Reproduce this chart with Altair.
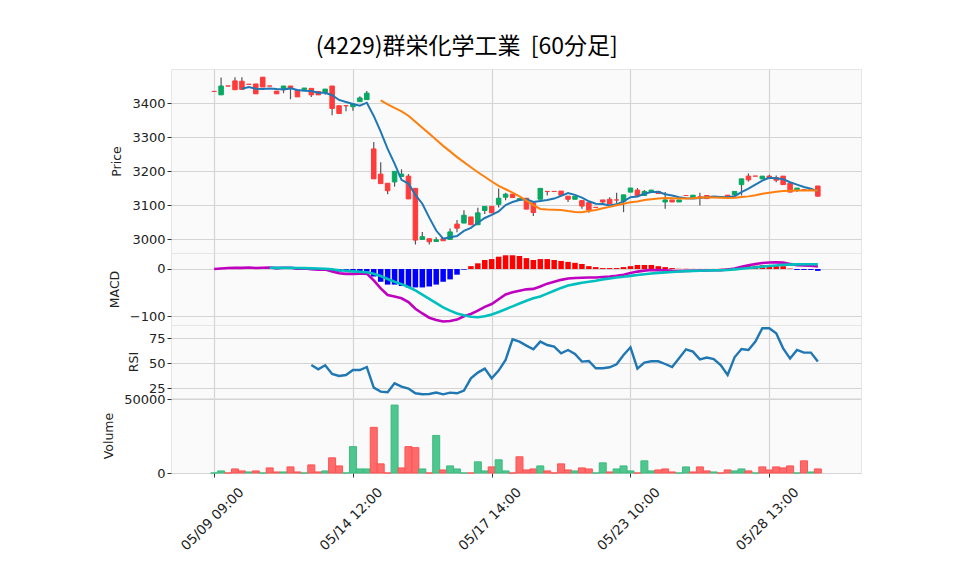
import altair as alt
import pandas as pd

# ---------------- data ----------------
N = 88
idx = list(range(N))

opens = [3435, 3425, 3451, 3466, 3465, 3456, 3457, 3477, 3451, 3436,
         3444, 3451, 3439, 3440, 3444, 3435, 3432, 3451, 3393, 3393,
         3390, 3405, 3411, 3266, 3192, 3165, 3169, 3185, 3186, 3150,
         3000, 3002, 2994, 3002, 3000, 3045, 3048, 3066, 3043, 3085,
         3097, 3103, 3124, 3133, 3116, 3121, 3107, 3118, 3141, 3141,
         3142, 3127, 3118, 3114, 3108, 3094, 3116, 3118, 3116, 3112,
         3139, 3145, 3129, 3139, 3141, 3110, 3116, 3110, 3129, 3124,
         3125, 3129, 3125, 3125, 3130, 3131, 3161, 3186, 3186, 3178,
         3186, 3182, 3186, 3165, 3145, 3146, 3146, 3157]
highs = [3435, 3476, 3451, 3477, 3477, 3456, 3457, 3477, 3451, 3436,
         3451, 3451, 3439, 3445, 3444, 3435, 3442, 3451, 3393, 3393,
         3398, 3421, 3436, 3286, 3227, 3165, 3200, 3206, 3192, 3150,
         3022, 3002, 3006, 3002, 3032, 3057, 3086, 3066, 3093, 3097,
         3097, 3150, 3137, 3133, 3120, 3121, 3107, 3150, 3141, 3141,
         3142, 3127, 3127, 3116, 3108, 3094, 3116, 3124, 3137, 3131,
         3151, 3151, 3145, 3145, 3141, 3139, 3116, 3116, 3129, 3130,
         3137, 3129, 3125, 3125, 3130, 3141, 3178, 3194, 3186, 3186,
         3190, 3188, 3186, 3165, 3151, 3146, 3146, 3157]
lows = [3435, 3425, 3451, 3440, 3440, 3456, 3428, 3448, 3451, 3428,
        3430, 3412, 3419, 3440, 3419, 3425, 3425, 3365, 3370, 3377,
        3378, 3405, 3411, 3178, 3164, 3133, 3155, 3185, 3119, 2985,
        3000, 2985, 2994, 2996, 3000, 3021, 3048, 3043, 3043, 3075,
        3078, 3094, 3115, 3123, 3116, 3089, 3069, 3118, 3129, 3141,
        3130, 3110, 3118, 3090, 3078, 3094, 3106, 3104, 3106, 3080,
        3139, 3129, 3129, 3139, 3135, 3090, 3110, 3110, 3129, 3124,
        3100, 3120, 3125, 3125, 3126, 3125, 3129, 3170, 3186, 3178,
        3180, 3168, 3161, 3139, 3139, 3146, 3146, 3127]
closes = [3435, 3451, 3451, 3440, 3441, 3456, 3428, 3448, 3451, 3428,
          3451, 3444, 3419, 3445, 3425, 3425, 3442, 3385, 3370, 3393,
          3398, 3416, 3430, 3178, 3164, 3143, 3200, 3192, 3119, 2998,
          3008, 2993, 2999, 2996, 3022, 3033, 3071, 3043, 3078, 3097,
          3078, 3121, 3133, 3123, 3120, 3089, 3079, 3150, 3141, 3141,
          3130, 3118, 3127, 3098, 3086, 3094, 3110, 3104, 3116, 3131,
          3151, 3129, 3141, 3145, 3135, 3116, 3110, 3116, 3129, 3130,
          3125, 3120, 3125, 3125, 3126, 3141, 3178, 3175, 3186, 3186,
          3180, 3174, 3161, 3139, 3151, 3146, 3146, 3127]

ma5_vals = [3443, 3448, 3443, 3442, 3444, 3442, 3441, 3444, 3439, 3437,
            3436, 3431, 3431, 3424, 3410, 3404, 3398, 3393, 3402, 3363,
            3317, 3266, 3223, 3175, 3164, 3131, 3105, 3064, 3026, 3002,
            3006, 3010, 3025, 3034, 3049, 3063, 3072, 3082, 3101, 3110,
            3116, 3118, 3110, 3113, 3116, 3120, 3128, 3136, 3131, 3123,
            3112, 3105, 3104, 3100, 3103, 3112, 3124, 3126, 3134, 3139,
            3140, 3133, 3129, 3124, 3121, 3120, 3122, 3124, 3126, 3125,
            3124, 3127, 3139, 3149, 3161, 3173, 3181, 3180, 3177, 3168,
            3161, 3154, 3149, 3142]
ma25_vals = [3408.5, 3396.8, 3386.8, 3376.4, 3363.6, 3345.9, 3328.2, 3311.0,
             3293.1, 3275.0, 3258.8, 3242.0, 3227.1, 3212.1, 3197.4, 3184.2,
             3170.2, 3157.4, 3147.5, 3137.6, 3126.6, 3114.2, 3100.8, 3089.6,
             3088.1, 3087.2, 3086.6, 3083.4, 3080.8, 3079.9, 3083.4, 3086.6,
             3091.4, 3095.6, 3100.2, 3104.6, 3109.3, 3111.6, 3115.6, 3118.3,
             3120.0, 3121.6, 3121.1, 3120.3, 3120.5, 3120.9, 3122.3, 3123.9,
             3122.9, 3122.3, 3121.7, 3122.2, 3124.6, 3126.5, 3130.0, 3134.0,
             3137.4, 3139.8, 3142.0, 3143.0, 3143.8, 3143.6, 3144.2, 3143.7]

macd_vals = [0, 1.2, 2.2, 2.4, 2.4, 3.2, 2.2, 2.5, 3.0, 1.8,
             2.5, 2.5, 0.8, 1.0, -0.3, -1.3, -1.0, -5.5, -9.0, -10.3,
             -10.3, -10.0, -9.5, -24, -41, -55, -58, -62, -70, -84,
             -94, -103, -108, -111, -110, -107, -100, -95, -88, -80,
             -74, -64, -54, -49, -46, -43, -42, -37, -31, -27,
             -23, -20, -19, -18.4, -18, -18, -17, -16, -14.5, -12,
             -8.5, -5.5, -3.5, -2.2, -2.4, -3.0, -4.0, -4.5, -4.0, -3.7,
             -3.4, -3.1, -2.8, -2.3, -1.0, 1.1, 4.5, 8.0, 10.5, 12.5,
             13.8, 14.0, 13.5, 10.5, 7.8, 7.5, 7.0, 5.5]
signal_vals = [2.5, 2.4, 2.4, 2.4, 2.1, 1.9, 1.4, 0.9, 0.5, -0.7,
               -2.5, -3.8, -5.0, -6.0, -7.0, -10, -15, -21, -27, -32,
               -38, -45, -54, -63, -72, -81, -88, -94, -98, -101,
               -102, -100, -96, -91, -85, -79, -73, -67, -62, -58,
               -52, -46, -40, -35, -32, -29, -27, -25, -22, -20,
               -18, -16.5, -14.5, -12.7, -11.2, -9.6, -8.2, -7.2, -6.3, -5.3,
               -4.5, -4.0, -3.6, -3.3, -3.0, -2.8, -2.0, -0.9, 0.5, 2.0,
               3.5, 5.0, 6.3, 7.5, 8.6, 9.3, 9.8, 10, 10, 10]
hist_vals = [0.3, -0.5, 0.2, 0.2, -1.1, -0.8, -1.5, -2.0, -1.3, -4.5,
             -5.5, -3.5, -4.0, -4.2, -5.6, -16, -27, -33, -33, -36,
             -39, -39, -39, -37, -33, -27, -22, -12, -1.5, 6,
             12, 19, 21, 26, 29, 29, 27.5, 23, 19, 21,
             21, 19, 17, 15, 13, 10.6, 6, 4, 2, 2,
             2, 4, 6, 8.5, 8.5, 8.5, 6, 4, 2, 0.5,
             0.5, 0.3, 0.2, 0.2, 0.2, 0.5, 1, 2, 4, 6,
             7, 8, 8, 7, 6, 1, -2, -2, -2, -4]

rsi_vals = [48.3, 44, 48, 39.3, 37.3, 38.3, 43.3, 43.3, 46.3, 25.7,
            21.7, 21, 30, 26.7, 24.7, 20, 19, 19.3, 20.7, 19,
            20.7, 20, 22.7, 35, 40.7, 44.7, 35, 42.7, 53.3, 74,
            71.7, 67.7, 64, 71.7, 68.3, 66.7, 60, 63.3, 59.3, 51.7,
            52.3, 45, 45, 46, 49, 58.3, 66, 44.7, 50.7, 52,
            52, 49.3, 46.3, 55, 64, 61.7, 54, 55.7, 54.3, 48.3,
            38.3, 56, 64.3, 63.3, 71.7, 85, 85, 80, 65, 54.7,
            63.3, 60.7, 60.7, 51.7]

volume = [0, 1400, 0, 2750, 1400, 700, 1400, 0, 3440, 700,
          700, 4130, 700, 0, 5500, 700, 1400, 10300, 4800, 0,
          17900, 2750, 2750, 31000, 6200, 0, 46100, 3440, 17900, 17200,
          2750, 0, 25500, 2060, 4800, 2750, 0, 0, 7570, 1400,
          4130, 8950, 1400, 0, 11000, 2060, 2750, 4800, 1400, 0,
          6200, 2060, 1400, 3440, 2750, 0, 6900, 700, 2750, 4800,
          1400, 0, 8260, 1400, 2060, 2750, 700, 0, 4130, 700,
          4130, 1400, 700, 0, 2060, 1400, 2750, 1400, 0, 4130,
          2060, 4130, 3440, 4800, 0, 8260, 700, 2750]
vol_up = [1, 1, 0, 0, 0, 1, 0, 1, 0, 0,
          1, 0, 0, 1, 0, 0, 1, 0, 0, 1,
          1, 1, 1, 0, 0, 0, 1, 0, 0, 0,
          1, 0, 1, 0, 1, 1, 1, 0, 1, 1,
          0, 1, 1, 0, 0, 0, 0, 1, 0, 0,
          0, 0, 1, 0, 0, 1, 1, 0, 1, 1,
          1, 0, 1, 1, 0, 0, 0, 1, 1, 0,
          0, 0, 1, 0, 0, 1, 1, 0, 1, 0,
          0, 0, 0, 0, 1, 0, 1, 0]

tick_pos = [0, 20, 40, 60, 80]
tick_labels = ["05/09 09:00", "05/14 12:00", "05/17 14:00", "05/23 10:00", "05/28 13:00"]
title_text = "(4229)群栄化学工業\u00a0 [60分足]"

# ---------------- table ----------------
def pad(vals):
    return [None] * (N - len(vals)) + list(vals)

df = pd.DataFrame({
    "i": idx, "open": opens, "high": highs, "low": lows, "close": closes,
    "ma5": pad(ma5_vals), "ma25": pad(ma25_vals),
    "macd": macd_vals, "signal": pad(signal_vals), "hist": pad(hist_vals),
    "rsi": pad(rsi_vals), "volume": volume, "vup": vol_up,
})

TFONT = "Noto Sans CJK JP"
FONT = "DejaVu Sans"
UP = "#07a862"
DOWN = "#ff3b3b"
xscale = alt.Scale(domain=[-5.5, 92.5], nice=False, zero=False)
W = 690

def x_hidden():
    return alt.X("i:Q", scale=xscale,
                 axis=alt.Axis(values=tick_pos, labels=False, ticks=False,
                               domain=False, title=None, grid=True,
                               minExtent=0, maxExtent=0, offset=0))

label_expr = " : ".join(f"datum.value == {p} ? '{l}'" for p, l in zip(tick_pos, tick_labels)) + " : ''"

x_bottom = alt.X("i:Q", scale=xscale,
                 axis=alt.Axis(values=tick_pos, labelExpr=label_expr, labelAngle=315,
                               labelAlign="center", labelBaseline="middle",
                               labelPadding=42, labelOffset=-2, ticks=True, tickSize=4,
                               domain=False, title=None, grid=True, labelFontSize=13.5))

base = alt.Chart(df)

# ---- price panel ----
py = alt.Scale(domain=[2960, 3501], nice=False, zero=False)
paxis = alt.Axis(values=[3000, 3100, 3200, 3300, 3400], title="Price", format="d")
wick = base.mark_rule(color="#555555", strokeWidth=1.2).encode(
    x=x_hidden(), y=alt.Y("low:Q", scale=py, axis=paxis), y2="high:Q")
up_cond = "datum.close > datum.open"
body = base.mark_bar(size=4.5, strokeWidth=1).encode(
    x=x_hidden(), y=alt.Y("open:Q", scale=py), y2="close:Q",
    color=alt.condition(up_cond, alt.value(UP), alt.value(DOWN)),
    stroke=alt.condition(up_cond, alt.value(UP), alt.value(DOWN)))
ma5 = base.mark_line(color="#1f77b4", strokeWidth=2).encode(
    x=x_hidden(), y=alt.Y("ma5:Q", scale=py))
ma25 = base.mark_line(color="#ff7f0e", strokeWidth=2).encode(
    x=x_hidden(), y=alt.Y("ma25:Q", scale=py))
price = alt.layer(wick, body, ma5, ma25).properties(width=W, height=184)

# ---- MACD panel ----
my = alt.Scale(domain=[-118.4, 33.8], nice=False, zero=False)
maxis = alt.Axis(values=[-100, 0], title="MACD", format="d")
hbar = base.mark_bar(size=5.5).encode(
    x=x_hidden(), y=alt.Y("hist:Q", scale=my, axis=maxis), y2=alt.datum(0),
    color=alt.condition("datum.hist > 0", alt.value("#ff0000"), alt.value("#0000ff")))
mline = base.mark_line(color="#bf00bf", strokeWidth=2.6).encode(
    x=x_hidden(), y=alt.Y("macd:Q", scale=my))
sline = base.mark_line(color="#00bfbf", strokeWidth=2.6).encode(
    x=x_hidden(), y=alt.Y("signal:Q", scale=my))
macd = alt.layer(hbar, mline, sline).properties(width=W, height=72)

# ---- RSI panel ----
ry = alt.Scale(domain=[15.3, 88.3], nice=False, zero=False)
rsi = base.mark_line(color="#1f77b4", strokeWidth=2.4).encode(
    x=x_hidden(), y=alt.Y("rsi:Q", scale=ry,
                          axis=alt.Axis(values=[25, 50, 75], title="RSI", format="d"))
).properties(width=W, height=73)

# ---- Volume panel ----
vy = alt.Scale(domain=[0, 50900], nice=False, zero=True)
vol = base.mark_bar(size=7, strokeWidth=1).encode(
    x=x_bottom,
    y=alt.Y("volume:Q", scale=vy, axis=alt.Axis(values=[0, 50000], title="Volume", format="d")),
    color=alt.condition("datum.vup == 1", alt.value("#4fc68e"), alt.value("#ff6b6b")),
    stroke=alt.condition("datum.vup == 1", alt.value("#3dbb80"), alt.value("#ff5252")),
).properties(width=W, height=75)

chart = alt.vconcat(price, macd, rsi, vol, spacing=0, bounds="flush").resolve_scale(
    y="independent", x="shared"
).properties(
    title=alt.TitleParams(title_text, font=TFONT, fontSize=23, fontWeight="normal",
                          color="#000000", anchor="middle", offset=10, dx=-15),
    padding={"left": 94, "top": 27, "right": 10, "bottom": 5},
    background="white",
).configure_view(
    fill="#fafafa", stroke="#e6e6e6"
).configure_axis(
    gridColor="#d4d4d4", gridWidth=1.2, labelFont=FONT, labelFontSize=13,
    labelColor="#222222", tickColor="#333333", tickSize=4, labelPadding=2,
    domain=False, titleFont=FONT, titleFontSize=12.5, titleFontWeight="normal",
    titleColor="#222222", titlePadding=8
)

chart.save("out.html", embed_options={"renderer": "svg", "actions": False})
